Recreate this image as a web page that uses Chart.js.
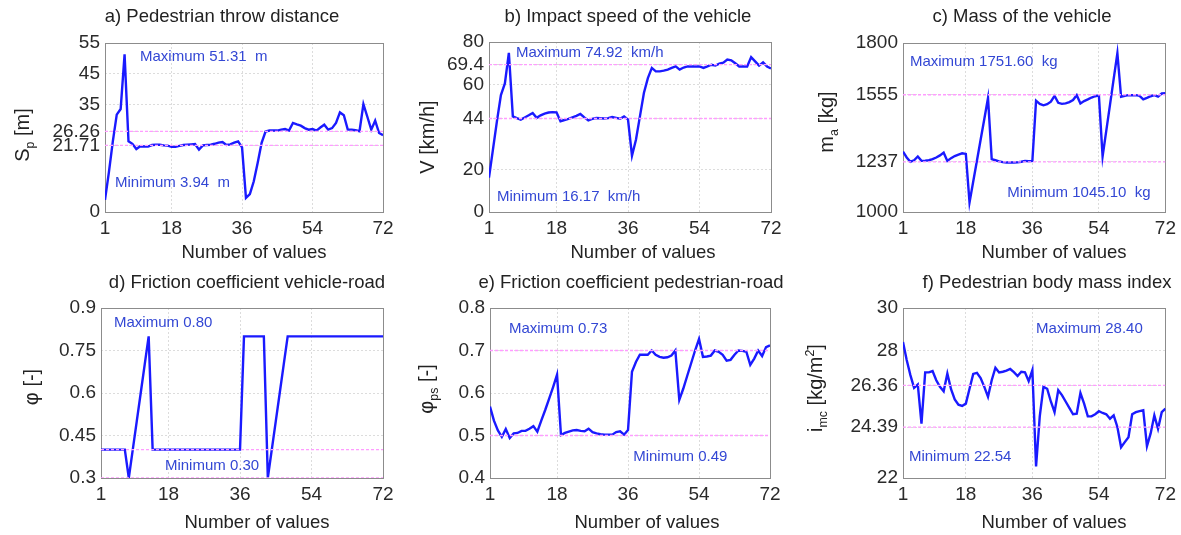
<!DOCTYPE html>
<html>
<head>
<meta charset="utf-8">
<script src="https://cdn.jsdelivr.net/npm/chart.js@4.4.1/dist/chart.umd.min.js"></script>
<style>
html,body{margin:0;padding:0;background:#fff;}
#wrap{position:relative;width:1181px;height:535px;overflow:hidden;background:#fff;}
#wrap canvas{position:absolute;left:0;top:0;}
</style>
</head>
<body>
<div id="wrap"></div>
<script>
// ---------- data ----------
const sampleIndex = [1,2,3,4,5,6,7,8,9,10,11,12,13,14,15,16,17,18,19,20,21,22,23,24,25,26,27,28,29,30,31,32,33,34,35,36,37,38,39,40,41,42,43,44,45,46,47,48,49,50,51,52,53,54,55,56,57,58,59,60,61,62,63,64,65,66,67,68,69,70,71,72];
const xTickValues = [1,18,36,54,72];

const throwDistance = [3.94,13,23,31.7,33.5,51.31,23.0,22.2,20.5,21.4,
  21.3,21.3,21.8,21.9,21.9,21.7,21.6,21.2,21.2,21.5,
  21.8,21.9,22.0,22.1,20.3,21.7,21.8,21.9,22.2,22.6,
  22.8,21.8,22.0,22.6,23.0,21.0,4.6,5.8,10.0,16.0,
  22.5,26.2,26.5,26.5,26.5,26.8,27.0,26.5,29.0,28.5,
  28.1,27.3,26.8,27.0,26.5,27.5,28.4,26.8,27.3,29.0,
  32.4,31.5,26.8,26.8,26.6,26.3,35.1,31.0,26.8,29.7,25.7,25.0];
const throwTicks = [0,21.71,26.26,35,45,55];
const throwTickLabels = ['0','21.71','26.26','35','45','55'];
const throwRefs = [21.71,26.26];

const impactSpeed = [16.17,29.5,42.8,55.0,60.5,74.92,45.0,44.2,43.5,44.5,
  45.5,46.6,44.3,45.5,46.3,46.8,47.0,46.9,42.7,43.3,
  43.8,44.5,45.2,46.1,44.5,43.1,43.8,44.2,44.1,44.0,
  44.2,44.7,44.3,43.9,45.0,43.5,26.5,34.0,45.0,56.0,
  63.0,67.8,66.2,66.2,66.5,67.0,67.8,68.5,67.0,68.0,
  68.5,68.5,68.5,68.5,67.8,68.5,69.3,68.9,69.8,70.3,
  71.7,71.4,70.0,68.5,68.5,68.5,72.9,70.9,68.9,70.4,68.5,67.5];
const speedTicks = [0,20,44,60,69.4,80];
const speedTickLabels = ['0','20','44','60','69.4','80'];
const speedRefs = [44,69.4];

const vehicleMass = [1286,1258,1238,1245,1263,1242,1243,1245,1250,1258,
  1268,1281,1242,1255,1265,1272,1278,1275,1045.1,1144,
  1243,1342,1440,1540,1250,1245,1240,1236,1234,1234,
  1234,1235,1238,1242,1240,1242,1527,1512,1505,1510,
  1522,1550,1517,1512,1514,1520,1530,1553,1514,1525,
  1533,1542,1548,1552,1263,1385,1507,1630,1751.6,1546,
  1550,1553,1553,1553,1550,1533,1540,1548,1553,1546,1561,1562];
const massTicks = [1000,1237,1555,1800];
const massTickLabels = ['1000','1237','1555','1800'];
const massRefs = [1237,1555];

const frictionVehicleRoad = [0.4,0.4,0.4,0.4,0.4,0.4,0.4,0.3,0.4,0.5,
  0.6,0.7,0.8,0.4,0.4,0.4,0.4,0.4,0.4,0.4,
  0.4,0.4,0.4,0.4,0.4,0.4,0.4,0.4,0.4,0.4,
  0.4,0.4,0.4,0.4,0.4,0.4,0.8,0.8,0.8,0.8,
  0.8,0.8,0.3,0.4,0.5,0.6,0.7,0.8,0.8,0.8,
  0.8,0.8,0.8,0.8,0.8,0.8,0.8,0.8,0.8,0.8,
  0.8,0.8,0.8,0.8,0.8,0.8,0.8,0.8,0.8,0.8,0.8,0.8];
const frictionVRTicks = [0.3,0.45,0.6,0.75,0.9];
const frictionVRTickLabels = ['0.3','0.45','0.6','0.75','0.9'];
const frictionVRRefs = [0.3,0.4];

const frictionPedestrianRoad = [0.568,0.535,0.512,0.497,0.515,0.494,0.505,0.506,0.511,0.511,
  0.516,0.522,0.509,0.535,0.560,0.587,0.614,0.643,0.501,0.506,
  0.509,0.512,0.513,0.511,0.510,0.516,0.508,0.505,0.503,0.502,
  0.502,0.502,0.508,0.510,0.502,0.513,0.650,0.673,0.690,0.690,
  0.690,0.700,0.690,0.685,0.683,0.684,0.688,0.700,0.584,0.610,
  0.640,0.670,0.700,0.727,0.685,0.686,0.688,0.700,0.697,0.690,
  0.676,0.678,0.690,0.700,0.699,0.697,0.666,0.681,0.700,0.687,0.708,0.712];
const frictionPRTicks = [0.4,0.5,0.6,0.7,0.8];
const frictionPRTickLabels = ['0.4','0.5','0.6','0.7','0.8'];
const frictionPRRefs = [0.5,0.7];

const bodyMassIndex = [28.40,27.55,26.84,26.24,26.40,24.56,26.97,26.97,27.03,26.60,
  26.29,26.08,26.92,26.18,25.70,25.45,25.39,25.50,26.20,26.90,
  26.95,26.70,26.29,25.82,26.60,27.19,26.97,27.00,27.05,27.13,
  26.98,26.80,27.00,26.97,26.56,27.08,22.54,24.90,26.29,26.20,
  25.60,25.10,26.13,25.90,25.60,25.30,25.00,25.03,26.00,25.50,
  24.90,24.90,25.00,25.14,25.06,25.00,24.79,24.95,24.40,23.45,
  23.69,23.92,25.00,25.10,25.15,25.19,23.50,24.10,24.95,24.32,25.10,25.26];
const bmiTicks = [22,24.39,26.36,28,30];
const bmiTickLabels = ['22','24.39','26.36','28','30'];
const bmiRefs = [24.39,26.36];

// ---------- layout / style ----------
const FAMILY = '"Liberation Sans", Arial, Helvetica, sans-serif';
const W = 1181, H = 535, YW = 70, XH = 50;
const LINE_BLUE = '#1a1aff', NOTE_BLUE = '#3347d4', REF_PINK = '#ff9cff';
const TICK_SIZE = 19, LABEL_SIZE = 18.5;

const panels = [
  { values: throwDistance, yMin:0, yMax:55, ticks: throwTicks, labels: throwTickLabels, refs: throwRefs,
    area:{L:105,R:383,T:43,B:212}, title:'a) Pedestrian throw distance', titlePos:[222,17], xTitlePos:[254,253],
    yTitle:[['S',''],['p','sub'],[' [m]','']], yTitlePos:[22,135],
    notes:[{text:'Maximum 51.31  m', x:9.94, y:50.4},{text:'Minimum 3.94  m', x:3.55, y:9.44}] },
  { values: impactSpeed, yMin:0, yMax:80, ticks: speedTicks, labels: speedTickLabels, refs: speedRefs,
    area:{L:489,R:771,T:42,B:212}, title:'b) Impact speed of the vehicle', titlePos:[628,17], xTitlePos:[643,253],
    yTitle:[['V [km/h]','']], yTitlePos:[427,137],
    notes:[{text:'Maximum 74.92  km/h', x:7.8, y:74.8},{text:'Minimum 16.17  km/h', x:3.0, y:7.06}] },
  { values: vehicleMass, yMin:1000, yMax:1800, ticks: massTicks, labels: massTickLabels, refs: massRefs,
    area:{L:903,R:1167,T:43,B:212}, title:'c) Mass of the vehicle', titlePos:[1022,17], xTitlePos:[1054,253],
    yTitle:[['m',''],['a','sub'],[' [kg]','']], yTitlePos:[826,122],
    notes:[{text:'Maximum 1751.60  kg', x:2.88, y:1710},{text:'Minimum 1045.10  kg', x:29.2, y:1090}] },
  { values: frictionVehicleRoad, yMin:0.3, yMax:0.9, ticks: frictionVRTicks, labels: frictionVRTickLabels, refs: frictionVRRefs,
    area:{L:101,R:383,T:308,B:478}, title:'d) Friction coefficient vehicle-road', titlePos:[247,283], xTitlePos:[257,523],
    yTitle:[['\u03C6 [-]','']], yTitlePos:[31,387],
    notes:[{text:'Maximum 0.80', x:4.27, y:0.847},{text:'Minimum 0.30', x:17.1, y:0.342}] },
  { values: frictionPedestrianRoad, yMin:0.4, yMax:0.8, ticks: frictionPRTicks, labels: frictionPRTickLabels, refs: frictionPRRefs,
    area:{L:490,R:770,T:308,B:478}, title:'e) Friction coefficient pedestrian-road', titlePos:[631,283], xTitlePos:[647,523],
    yTitle:[['\u03C6',''],['ps','sub'],[' [-]','']], yTitlePos:[426,389],
    notes:[{text:'Maximum 0.73', x:5.8, y:0.751},{text:'Minimum 0.49', x:37.3, y:0.449}] },
  { values: bodyMassIndex, yMin:22, yMax:30, ticks: bmiTicks, labels: bmiTickLabels, refs: bmiRefs,
    area:{L:903,R:1167,T:308,B:478}, title:'f) Pedestrian body mass index', titlePos:[1047,283], xTitlePos:[1054,523],
    yTitle:[['i',''],['mc','sub'],[' [kg/m',''],['2','sup'],[']','']], yTitlePos:[815,388],
    notes:[{text:'Maximum 28.40', x:37.0, y:29.01},{text:'Minimum 22.54', x:2.6, y:22.99}] }
];

function drawRich(ctx, parts, cx, cy, size, rotate) {
  ctx.save();
  ctx.translate(cx, cy);
  if (rotate) ctx.rotate(-Math.PI / 2);
  let total = 0;
  const segs = parts.map(([t, k]) => {
    const fs = k ? size * 0.62 : size;
    ctx.font = fs + 'px ' + FAMILY;
    const w = ctx.measureText(t).width;
    total += w;
    return { t, k, fs, w };
  });
  let x = -total / 2;
  ctx.textBaseline = 'alphabetic';
  ctx.textAlign = 'left';
  ctx.fillStyle = '#222';
  const base = size * 0.36;
  segs.forEach(s => {
    ctx.font = s.fs + 'px ' + FAMILY;
    const dy = s.k === 'sub' ? size * 0.22 : (s.k === 'sup' ? -size * 0.42 : 0);
    ctx.fillText(s.t, x, base + dy);
    x += s.w;
  });
  ctx.restore();
}

function makeDecor(p) {
  return {
    id: 'decor',
    beforeDatasetsDraw(chart) {
      const { ctx, chartArea: a } = chart;
      ctx.save();
      ctx.strokeStyle = '#8c8c8c';
      ctx.lineWidth = 1;
      ctx.strokeRect(Math.round(a.left) + 0.5, Math.round(a.top) + 0.5, Math.round(a.right - a.left), Math.round(a.bottom - a.top));
      ctx.restore();
    },
    afterDraw(chart) {
      const { ctx } = chart;
      const xs = chart.scales.x, ys = chart.scales.y;
      ctx.save();
      ctx.fillStyle = '#222';
      ctx.textAlign = 'center';
      ctx.textBaseline = 'middle';
      ctx.font = LABEL_SIZE + 'px ' + FAMILY;
      ctx.fillText(p.title, p.titlePos[0], p.titlePos[1]);
      ctx.fillText('Number of values', p.xTitlePos[0], p.xTitlePos[1]);
      ctx.fillStyle = NOTE_BLUE;
      ctx.textAlign = 'left';
      ctx.font = '15px ' + FAMILY;
      p.notes.forEach(n => {
        ctx.fillText(n.text, xs.getPixelForValue(n.x), ys.getPixelForValue(n.y));
      });
      ctx.restore();
      drawRich(ctx, p.yTitle, p.yTitlePos[0], p.yTitlePos[1], 20, true);
    }
  };
}

const wrap = document.getElementById('wrap');
panels.forEach(p => {
  const c = document.createElement('canvas');
  c.width = W; c.height = H;
  c.style.width = W + 'px'; c.style.height = H + 'px';
  wrap.appendChild(c);
  const datasets = p.refs.map(v => ({
    data: [{ x: xTickValues[0], y: v }, { x: xTickValues[xTickValues.length - 1], y: v }],
    borderColor: REF_PINK, borderWidth: 1.3, borderDash: [3, 2], pointRadius: 0, fill: false
  }));
  datasets.push({
    data: p.values.map((v, i) => ({ x: sampleIndex[i], y: v })),
    borderColor: LINE_BLUE, borderWidth: 2.4, pointRadius: 0, fill: false, tension: 0
  });
  new Chart(c, {
    type: 'line',
    data: { datasets },
    plugins: [makeDecor(p)],
    options: {
      responsive: false, animation: false, devicePixelRatio: 1,
      layout: { padding: { left: p.area.L - YW, right: W - p.area.R, top: p.area.T, bottom: H - p.area.B - XH } },
      plugins: { legend: { display: false }, tooltip: { enabled: false }, title: { display: false } },
      scales: {
        x: {
          type: 'linear', min: 1, max: 72,
          afterBuildTicks: s => { s.ticks = xTickValues.map(v => ({ value: v })); },
          afterFit: s => { s.height = XH; },
          ticks: { autoSkip: false, maxRotation: 0, padding: 5, color: '#2a2a2a', font: { family: FAMILY, size: TICK_SIZE },
                   callback: v => String(v) },
          grid: { color: '#dcdcdc', lineWidth: 1, drawTicks: false },
          border: { display: false, dash: [2, 2] }
        },
        y: {
          type: 'linear', min: p.yMin, max: p.yMax,
          afterBuildTicks: s => { s.ticks = p.ticks.map(v => ({ value: v })); },
          afterFit: s => { s.width = YW; },
          ticks: { autoSkip: false, padding: 5, color: '#2a2a2a', font: { family: FAMILY, size: TICK_SIZE },
                   callback: (v, i) => p.labels[i] },
          grid: { color: '#dcdcdc', lineWidth: 1, drawTicks: false },
          border: { display: false, dash: [2, 2] }
        }
      }
    }
  });
});
</script>
</body>
</html>
